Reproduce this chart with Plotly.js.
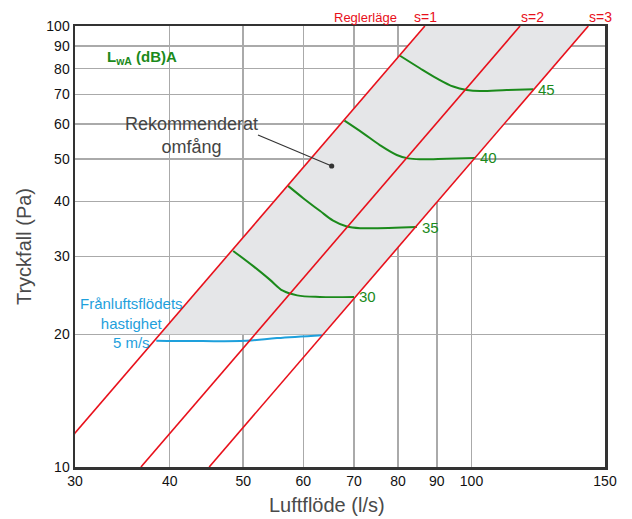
<!DOCTYPE html>
<html>
<head>
<meta charset="utf-8">
<script src="https://cdn.plot.ly/plotly-3.0.1.min.js"></script>
<style>html,body{margin:0;padding:0;background:#fff}#chart{width:632px;height:519px}</style>
</head>
<body>
<div id="chart"></div>
<script>
// Axis ticks
const xTicks = [30, 40, 50, 60, 70, 80, 90, 100, 150];
const yTicks = [10, 20, 30, 40, 50, 60, 70, 80, 90, 100];

// Regulator position lines (Reglerläge), p ∝ q²
const s1Flow = [27.45, 86.8],  s1Pressure = [10, 100];
const s2Flow = [36.65, 115.9], s2Pressure = [10, 100];
const s3Flow = [45.09, 142.6], s3Pressure = [10, 100];

// Recommended range (Rekommenderat omfång)
const rangeFlow = [38.8, 86.8, 142.6, 63.8];
const rangePressure = [20, 100, 100, 20];

// Exhaust air velocity 5 m/s
const velFlow = [38.4, 43.0, 50.5, 55.4, 63.5];
const velPressure = [19.34, 19.3, 19.34, 19.6, 19.9];

// Sound level curves LwA (dB)A
const lwaLabels = ['30', '35', '40', '45'];
const lwa30Flow = [48.5, 51.6, 54.2, 56.4, 58.9, 63.1, 70.0];
const lwa30P    = [30.9, 28.5, 26.6, 25.1, 24.5, 24.3, 24.3];
const lwa35Flow = [57.3, 60.0, 63.1, 65.7, 68.5, 71.3, 84.7];
const lwa35P    = [43.4, 40.7, 38.1, 36.2, 35.1, 34.8, 35.0];
const lwa40Flow = [68.0, 72.0, 75.7, 79.7, 82.5, 85.5, 92.8, 101.1];
const lwa40P    = [61.0, 57.1, 53.7, 51.0, 50.1, 49.85, 50.0, 50.2];
const lwa45Flow = [80.5, 85.5, 90.0, 94.6, 98.6, 102.6, 111.3, 120.7];
const lwa45P    = [85.6, 80.2, 76.1, 72.9, 71.6, 71.2, 71.6, 71.9];

const RED = '#e8101b', GREEN = '#1b8a1b', BLUE = '#1ea0dc';
const FONT = 'Liberation Sans, Arial, Helvetica, sans-serif';

const traces = [
  {x: rangeFlow, y: rangePressure, mode: 'lines', fill: 'toself', fillcolor: '#e5e6e8',
   line: {width: 0}, hoverinfo: 'skip'},
  {x: velFlow, y: velPressure, mode: 'lines', line: {color: BLUE, width: 2, shape: 'spline'}},
];
const lwaSets = [[lwa30Flow, lwa30P], [lwa35Flow, lwa35P], [lwa40Flow, lwa40P], [lwa45Flow, lwa45P]];
lwaSets.forEach(([fx, py]) => traces.push({x: fx, y: py, mode: 'lines',
  line: {color: GREEN, width: 2, shape: 'spline', smoothing: 1}}));
[[s1Flow, s1Pressure], [s2Flow, s2Pressure], [s3Flow, s3Pressure]].forEach(([fx, py]) =>
  traces.push({x: fx, y: py, mode: 'lines', line: {color: RED, width: 1.6}}));

const annotations = [
  {xref: 'paper', yref: 'paper', x: 0.549, y: 1.02, text: 'Reglerläge', showarrow: false,
   font: {family: FONT, size: 13, color: RED}, xanchor: 'center', yanchor: 'middle'},
  {xref: 'paper', yref: 'paper', x: 0.6604, y: 1.02, text: 's=1', showarrow: false,
   font: {family: FONT, size: 14, color: RED}, xanchor: 'center', yanchor: 'middle'},
  {xref: 'paper', yref: 'paper', x: 0.8623, y: 1.02, text: 's=2', showarrow: false,
   font: {family: FONT, size: 14, color: RED}, xanchor: 'center', yanchor: 'middle'},
  {xref: 'paper', yref: 'paper', x: 0.9906, y: 1.02, text: 's=3', showarrow: false,
   font: {family: FONT, size: 14, color: RED}, xanchor: 'center', yanchor: 'middle'},
  {xref: 'paper', yref: 'paper', x: 0.0566, y: 0.9297, text: '<b>L<sub>wA</sub> (dB)A</b>', showarrow: false,
   font: {family: FONT, size: 15, color: GREEN}, xanchor: 'left', yanchor: 'middle'},
  {xref: 'paper', yref: 'paper', x: 0.219, y: 0.7528, text: 'Rekommenderat<br>omfång', showarrow: false,
   font: {family: FONT, size: 18, color: '#444'}, xanchor: 'center', yanchor: 'middle', align: 'center'},
  {xref: 'paper', yref: 'paper', x: 0.1057, y: 0.3265, text: 'Frånluftsflödets<br>hastighet<br>5 m/s', showarrow: false,
   font: {family: FONT, size: 15, color: BLUE}, xanchor: 'center', yanchor: 'middle', align: 'center'},
  {xref: 'paper', yref: 'paper', x: 0.4755, y: -0.086, text: 'Luftflöde (l/s)', showarrow: false,
   font: {family: FONT, size: 20, color: '#4a4a4a'}, xanchor: 'center', yanchor: 'middle'},
];
lwaSets.forEach(([fx, py], i) => annotations.push({
  x: Math.log10(fx[fx.length - 1]), y: Math.log10(py[py.length - 1]), text: lwaLabels[i],
  showarrow: false, xanchor: 'left', yanchor: 'middle', xshift: 3,
  font: {family: FONT, size: 15, color: GREEN}}));

// Pointer from label to the range (paper coordinates)
const shapes = [
  {type: 'line', xref: 'paper', yref: 'paper', x0: 0.3453, y0: 0.7528, x1: 0.4843, y1: 0.6825,
   line: {color: '#333', width: 1.2}},
  {type: 'circle', xref: 'paper', yref: 'paper', x0: 0.4843 - 0.0049, x1: 0.4843 + 0.0049,
   y0: 0.6825 - 0.0059, y1: 0.6825 + 0.0059, fillcolor: '#333', line: {width: 0}},
];

const layout = {
  width: 632, height: 519,
  margin: {l: 75, r: 27, t: 26, b: 52},
  paper_bgcolor: '#fff', plot_bgcolor: '#fff',
  showlegend: false,
  font: {family: FONT, color: '#111'},
  xaxis: {type: 'log', range: [Math.log10(30), Math.log10(150)], tickvals: xTicks, ticktext: xTicks.map(String),
    showgrid: true, gridcolor: '#aaaaaa', gridwidth: 1.5, showline: true, mirror: true, linecolor: '#333', linewidth: 2.5,
    ticks: '', tickfont: {size: 14, color: '#111'}},
  yaxis: {type: 'log', range: [1, 2], tickvals: yTicks, ticktext: yTicks.map(String),
    showgrid: true, gridcolor: '#aaaaaa', gridwidth: 1.5, showline: true, mirror: true, linecolor: '#333', linewidth: 2.5,
    ticks: '', tickfont: {size: 14, color: '#111'},
    title: {text: 'Tryckfall (Pa)', font: {size: 20, color: '#4a4a4a'}, standoff: 10}},
  annotations: annotations,
  shapes: shapes,
};

Plotly.newPlot('chart', traces, layout, {displayModeBar: false, staticPlot: true});
</script>
</body>
</html>
